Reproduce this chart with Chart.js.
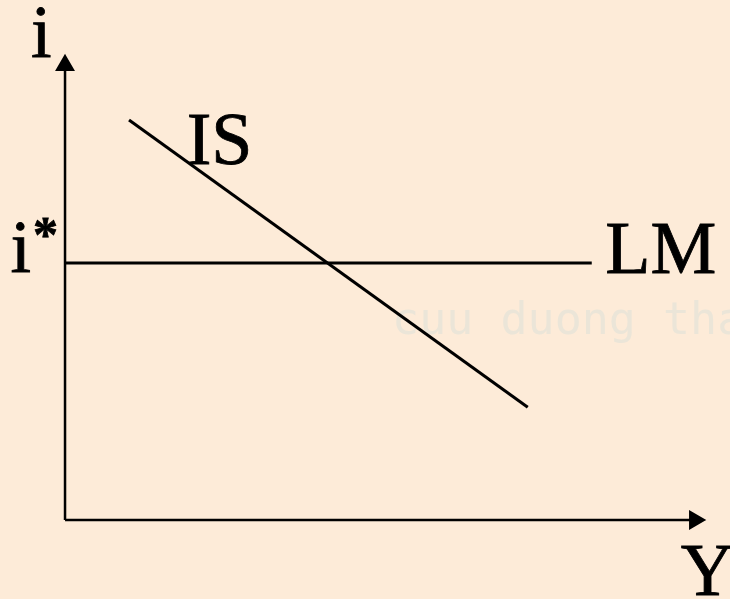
<!DOCTYPE html>
<html>
<head>
<meta charset="utf-8">
<script src="https://cdn.jsdelivr.net/npm/chart.js@4/dist/chart.umd.min.js"></script>
<style>
  html, body { margin: 0; padding: 0; background: #fdebd8; }
  #wrap { width: 730px; height: 599px; }
</style>
</head>
<body>
<div id="wrap"><canvas id="islm"></canvas></div>
<script>
// curves, in plain diagram units (Y across, i up)
const isCurve = [{x: 1.0, y: 8.62}, {x: 7.23, y: 2.43}];
const lmCurve = [{x: 0, y: 5.54}, {x: 8.23, y: 5.54}];
const iAxis = [{x: 0, y: 0}, {x: 0, y: 9.8}];
const yAxis = [{x: 0, y: 0}, {x: 9.84, y: 0}];

// text labels
const labelText = ["i", "i", "*", "IS", "LM", "Y"];
const labelX = [-0.53, -0.85, -0.5, 1.9, 8.44, 9.62];
const labelY = [9.98, 5.35, 5.8, 7.67, 5.32, -1.62];
const labelSize = [74, 74, 50, 74, 74, 74];
const labelWeight = ["normal", "normal", "bold", "normal", "normal", "normal"];

const watermark = "cuu duong than cong . com";

const textPlugin = {
  id: "textPlugin",
  beforeDatasetsDraw(chart) {
    const ctx = chart.ctx;
    const xs = chart.scales.x, ys = chart.scales.y;
    ctx.save();
    ctx.font = "45px 'DejaVu Sans Mono', monospace";
    ctx.fillStyle = "#ebe5d8";
    ctx.textBaseline = "alphabetic";
    ctx.fillText(watermark, xs.getPixelForValue(5.11), ys.getPixelForValue(4.0));
    ctx.restore();
  },
  afterDatasetsDraw(chart) {
    const ctx = chart.ctx;
    const xs = chart.scales.x, ys = chart.scales.y;
    ctx.save();
    ctx.fillStyle = "#000";
    ctx.strokeStyle = "#000";
    ctx.lineWidth = 0.8;
    ctx.textBaseline = "alphabetic";
    ctx.textAlign = "left";
    labelText.forEach((t, k) => {
      ctx.font = labelWeight[k] + " " + labelSize[k] + "px 'Liberation Serif', 'Times New Roman', Times, serif";
      const px = xs.getPixelForValue(labelX[k]);
      const py = ys.getPixelForValue(labelY[k]);
      ctx.fillText(t, px, py);
      ctx.strokeText(t, px, py);
    });
    ctx.restore();
  }
};

function line(data, extra) {
  return Object.assign({
    data: data,
    showLine: true,
    borderColor: "#000",
    backgroundColor: "#000",
    borderWidth: 3,
    pointRadius: 0,
    fill: false
  }, extra || {});
}

const config = {
  type: "scatter",
  data: {
    datasets: [
      line(iAxis, {pointRadius: [0, 9], pointStyle: "triangle", rotation: 0, borderWidth: 2.5}),
      line(yAxis, {pointRadius: [0, 9], pointStyle: "triangle", rotation: 90, borderWidth: 2.5}),
      line(lmCurve),
      line(isCurve)
    ]
  },
  options: {
    responsive: true,
    maintainAspectRatio: false,
    animation: false,
    layout: {padding: 0, autoPadding: false},
    plugins: {legend: {display: false}, tooltip: {enabled: false}},
    scales: {
      x: {type: "linear", min: -1.016, max: 10.39, display: false},
      y: {type: "linear", min: -1.703, max: 11.207, display: false}
    }
  },
  plugins: [textPlugin]
};

const myChart = new Chart(document.getElementById("islm"), config);
</script>
</body>
</html>
